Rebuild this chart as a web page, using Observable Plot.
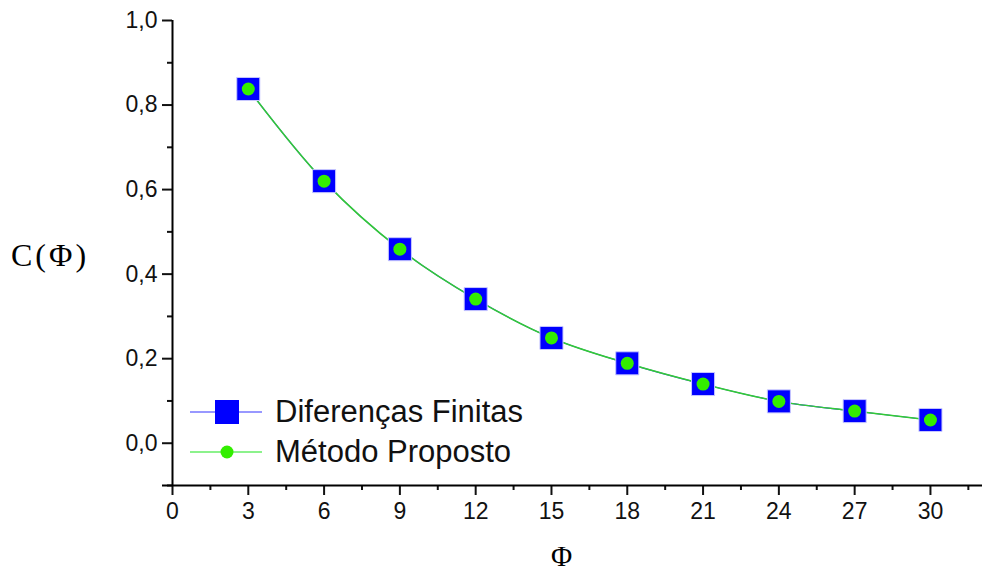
<!DOCTYPE html>
<html>
<head>
<meta charset="utf-8">
<script src="https://cdn.jsdelivr.net/npm/d3@7"></script>
<script src="https://cdn.jsdelivr.net/npm/@observablehq/plot@0.6"></script>
<style>
  html, body { margin: 0; padding: 0; background: #fff; }
  #wrap { position: relative; width: 983px; height: 574px; font-family: Arial, "Liberation Sans", sans-serif; overflow: hidden; }
  .ttl { position: absolute; font-family: "Times New Roman", "Liberation Serif", serif; color: #000; white-space: nowrap; line-height: 0.8; }
  #legend { position: absolute; left: 188px; top: 392px; font-size: 31px; color: #111; }
  .row { display: flex; align-items: center; height: 40px; }
  .row svg { margin-right: 11px; }
</style>
</head>
<body>
<div id="wrap">
  <div id="chart"></div>
  <div class="ttl" style="left:11px; top:243px; font-size:32px; letter-spacing:3px;">C(Φ)</div>
  <div class="ttl" style="left:551px; top:545px; font-size:29px;">Φ</div>
  <div id="legend"></div>
</div>
<script>
const phi = [3, 6, 9, 12, 15, 18, 21, 24, 27, 30];
const diferencas = [0.838, 0.620, 0.459, 0.341, 0.249, 0.189, 0.140, 0.099, 0.076, 0.055];
const proposto = [0.838, 0.620, 0.459, 0.341, 0.249, 0.189, 0.140, 0.099, 0.076, 0.055];
const xMajor = [0, 3, 6, 9, 12, 15, 18, 21, 24, 27, 30];
const xMinor = [1.5, 4.5, 7.5, 10.5, 13.5, 16.5, 19.5, 22.5, 25.5, 28.5, 31.5];
const yMajor = [0, 0.2, 0.4, 0.6, 0.8, 1.0];
const yMinor = [-0.1, 0.1, 0.3, 0.5, 0.7, 0.9];
const seriesNames = ["Diferenças Finitas", "Método Proposto"];

const dataA = phi.map((x, i) => ({x, y: diferencas[i]}));
const dataB = phi.map((x, i) => ({x, y: proposto[i]}));
const fmt = d => d.toFixed(1).replace(".", ",");

const chart = Plot.plot({
  width: 983,
  height: 574,
  marginLeft: 172,
  marginRight: 1,
  marginTop: 20,
  marginBottom: 89,
  style: {fontFamily: "Arial, 'Liberation Sans', sans-serif", fontSize: "23px", color: "#111", background: "#fff"},
  x: {domain: [0, 32.06], axis: null},
  y: {domain: [-0.1, 1.0], axis: null},
  marks: [
    Plot.axisX({ticks: xMajor, tickSize: 10, tickPadding: 7, tickFormat: d => String(d), strokeWidth: 2, fontSize: 23, anchor: "bottom", label: null}),
    Plot.axisX({ticks: xMinor, tickSize: 5, text: null, strokeWidth: 2, anchor: "bottom", label: null}),
    Plot.axisY({ticks: yMajor, tickSize: 10, tickPadding: 5, tickFormat: fmt, strokeWidth: 2, fontSize: 23, anchor: "left", label: null}),
    Plot.axisY({ticks: yMinor, tickSize: 5, text: null, strokeWidth: 2, anchor: "left", label: null}),
    Plot.ruleY([-0.1], {stroke: "#000", strokeWidth: 2, insetLeft: -10}),
    Plot.ruleX([0], {stroke: "#000", strokeWidth: 2}),
    Plot.line(dataA, {x: "x", y: "y", stroke: "#3333ff", strokeWidth: 1.2, curve: "catmull-rom"}),
    Plot.line(dataB, {x: "x", y: "y", stroke: "#33cc33", strokeWidth: 1.5, curve: "catmull-rom"}),
    Plot.dot(dataA, {x: "x", y: "y", symbol: "square", r: 13, fill: "#0000ff", stroke: "#c8c8ff", strokeWidth: 1}),
    Plot.dot(dataB, {x: "x", y: "y", symbol: "circle", r: 6.5, fill: "#33ee00"})
  ]
});
document.getElementById("chart").appendChild(chart);

const legend = document.getElementById("legend");
const swatches = [
  `<svg width="76" height="30"><line x1="2" x2="74" y1="15" y2="15" stroke="#3333ff" stroke-width="1.2"/><rect x="27" y="3" width="24" height="24" fill="#0000ff"/></svg>`,
  `<svg width="76" height="30"><line x1="2" x2="74" y1="15" y2="15" stroke="#66ee66" stroke-width="1.5"/><circle cx="39" cy="15" r="6.5" fill="#33ee00"/></svg>`
];
seriesNames.forEach((name, i) => {
  const row = document.createElement("div");
  row.className = "row";
  row.innerHTML = swatches[i] + `<span>${name}</span>`;
  legend.appendChild(row);
});
</script>
</body>
</html>
